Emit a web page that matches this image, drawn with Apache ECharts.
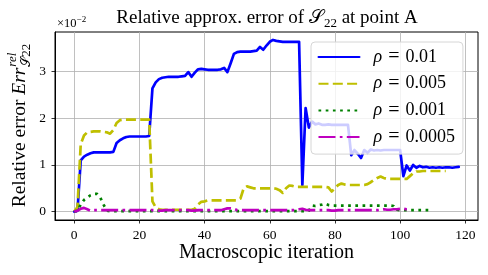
<!DOCTYPE html>
<html><head><meta charset="utf-8">
<script src="https://cdn.jsdelivr.net/npm/echarts@6/dist/echarts.min.js"></script>
<style>html,body{margin:0;padding:0;background:#fff}#c{width:488px;height:275px}</style>
</head><body><div id="c"></div>
<script>
// ---- data (index = macroscopic iteration) ----
const xTicks = [0, 20, 40, 60, 80, 100, 120];
const yTicks = [0, 1, 2, 3];
const rhoLabels = ['0.01', '0.005', '0.001', '0.0005'];

const rho001 = [
  0, 0.02, 1.1, 1.18, 1.22, 1.25, 1.27, 1.27, 1.27, 1.27,
  1.27, 1.27, 1.28, 1.47, 1.53, 1.57, 1.6, 1.61, 1.61, 1.61,
  1.61, 1.61, 1.61, 1.62, 2.64, 2.77, 2.84, 2.87, 2.88, 2.89,
  2.89, 2.89, 2.89, 2.9, 2.91, 2.99, 2.89, 2.98, 3.05, 3.06,
  3.05, 3.04, 3.04, 3.04, 3.04, 3.05, 3.08, 2.99, 3.18, 3.38,
  3.42, 3.43, 3.43, 3.43, 3.43, 3.44, 3.45, 3.53, 3.47, 3.56,
  3.64, 3.68, 3.66, 3.65, 3.64, 3.64, 3.64, 3.64, 3.64, 3.64,
  0.57, 2.22, 1.8, 1.93, 1.87, 1.89, 1.86, 1.86, 1.87, 1.86,
  1.86, 1.86, 1.86, 1.86, 1.86, 1.21, 1.32, 1.24, 1.15, 1.32,
  1.26, 1.33, 1.31, 1.32, 1.31, 1.32, 1.32, 1.32, 1.32, 1.32,
  1.32, 0.76, 0.99, 0.88, 1.0, 0.94, 0.98, 0.95, 0.96, 0.94,
  0.95, 0.94, 0.95, 0.94, 0.95, 0.95, 0.94, 0.95, 0.96
];
const rho0005 = [
  0, 0.1, 1.45, 1.63, 1.7, 1.71, 1.72, 1.72, 1.72, 1.71,
  1.7, 1.67, 1.75, 1.9, 1.96, 1.97, 1.97, 1.97, 1.97, 1.97,
  1.97, 1.97, 1.97, 1.97, 0.22, 0.09, 0.05, 0.04, 0.04, 0.04,
  0.04, 0.04, 0.04, 0.04, 0.04, 0.04, 0.04, 0.06, 0.15, 0.21,
  0.22, 0.24, 0.24, 0.24, 0.24, 0.24, 0.24, 0.24, 0.24, 0.24,
  0.24, 0.28, 0.5, 0.54, 0.52, 0.5, 0.5, 0.5, 0.5, 0.5,
  0.5, 0.5, 0.49, 0.46, 0.4, 0.5, 0.56, 0.55, 0.53, 0.53,
  0.53, 0.53, 0.53, 0.53, 0.53, 0.53, 0.53, 0.53, 0.52, 0.43,
  0.5, 0.57, 0.6, 0.58, 0.57, 0.57, 0.57, 0.57, 0.57, 0.57,
  0.59, 0.63, 0.68, 0.72, 0.75, 0.72, 0.7, 0.7, 0.7, 0.7,
  0.7, 0.7, 0.7, 0.76, 0.82, 0.86, 0.86, 0.87, 0.87, 0.87,
  0.87, 0.87, 0.87, 0.87, 0.87
];
const rho0001 = [
  0, 0.02, 0.15, 0.25, 0.3, 0.35, 0.38, 0.38, 0.3, 0.15,
  0.02, 0.01, 0.01, 0.01, 0.01, 0.01, 0.01, 0.01, 0.01, 0.01,
  0.01, 0.01, 0.01, 0.01, 0.01, 0.01, 0.01, 0.01, 0.01, 0.01,
  0.01, 0.01, 0.01, 0.01, 0.01, 0.01, 0.01, 0.01, 0.01, 0.01,
  0.01, 0.01, 0.01, 0.01, 0.01, 0.01, 0.01, 0.01, 0.01, 0.01,
  0.01, 0.01, 0.01, 0.01, 0.01, 0.01, 0.01, 0.01, 0.01, 0.01,
  0.01, 0.01, 0.01, 0.01, 0.01, 0.01, 0.01, 0.01, 0.01, 0.01,
  0.01, 0.01, 0.02, 0.13, 0.12, 0.14, 0.15, 0.17, 0.14, 0.13,
  0.13, 0.13, 0.13, 0.13, 0.13, 0.13, 0.13, 0.13, 0.13, 0.13,
  0.13, 0.13, 0.13, 0.13, 0.13, 0.13, 0.13, 0.13, 0.12, 0.04,
  0.03, 0.03, 0.03, 0.03, 0.03, 0.03, 0.03, 0.03, 0.03, 0.03,
  0.03
];
const rho00005 = [
  0, 0.02, 0.06, 0.08, 0.05, 0.02, 0.03, 0.03, 0.03, 0.03,
  0.03, 0.03, 0.03, 0.03, 0.03, 0.03, 0.03, 0.03, 0.03, 0.03,
  0.03, 0.03, 0.03, 0.03, 0.03, 0.03, 0.02, 0.02, 0.03, 0.03,
  0.03, 0.03, 0.03, 0.03, 0.03, 0.03, 0.02, 0.02, 0.03, 0.03,
  0.03, 0.03, 0.03, 0.03, 0.03, 0.03, 0.05, 0.07, 0.07, 0.06,
  0.03, 0.03, 0.03, 0.03, 0.03, 0.03, 0.03, 0.03, 0.03, 0.03,
  0.03, 0.03, 0.03, 0.03, 0.03, 0.03, 0.03, 0.03, 0.04, 0.05,
  0.06, 0.04, 0.03, 0.03, 0.03, 0.03, 0.03, 0.03, 0.03, 0.02,
  0.02, 0.03, 0.03, 0.03, 0.03, 0.03, 0.03, 0.03, 0.03, 0.03,
  0.03, 0.03, 0.03, 0.03, 0.04, 0.05, 0.04, 0.04, 0.05, 0.05,
  0.06, 0.06, 0.05, 0.05
];
const seriesValues = [rho001, rho0005, rho0001, rho00005];

// ---- styling ----
const FONT = '"Liberation Serif", "DejaVu Serif", serif';
const colors = ['#0000ff', '#bfbf00', '#008000', '#bf00bf'];
const dashes = ['solid', [10, 4.3], [2.7, 4.5], [17, 4.3, 2.7, 4.3]];

const chart = echarts.init(document.getElementById('c'), null, {renderer: 'canvas'});

const ctx = document.createElement('canvas').getContext('2d');
function tw(t, f) { ctx.font = f; return ctx.measureText(t).width; }

// y-axis label layout (rotated group)
const fMain = '19.5px ' + FONT, fIt = 'italic 19.5px ' + FONT, fSmall = 'italic 13px ' + FONT;
const w1 = tw('Relative error ', fMain);
const w2 = tw('Err', fIt);
const w3 = Math.max(tw('rel', fSmall), tw('\u{1D4AE}22', '13px ' + FONT));
const start = -(w1 + w2 + w3) / 2;

const option = {
  animation: false,
  backgroundColor: '#fff',
  grid: {left: 55, top: 32, width: 423, height: 188, show: true, borderColor: '#000', borderWidth: 1, backgroundColor: 'transparent', containLabel: false},
  xAxis: {
    type: 'value', min: -5.9, max: 123.9, splitNumber: 6,
    axisLine: {show: true, onZero: false, lineStyle: {color: '#000', width: 1}},
    axisTick: {show: true, inside: false, length: 3.5, lineStyle: {color: '#000', width: 0.8}, customValues: xTicks},
    axisLabel: {customValues: xTicks, color: '#000', fontFamily: FONT, fontSize: 13.5, margin: 8},
    splitLine: {show: true, lineStyle: {color: '#b0b0b0', width: 0.8}}
  },
  yAxis: {
    type: 'value', min: -0.18, max: 3.85, splitNumber: 4,
    axisLine: {show: true, onZero: false, lineStyle: {color: '#000', width: 1}},
    axisTick: {show: true, inside: false, length: 3.5, lineStyle: {color: '#000', width: 0.8}, customValues: yTicks},
    axisLabel: {customValues: yTicks, color: '#000', fontFamily: FONT, fontSize: 13.5, margin: 9},
    splitLine: {show: true, lineStyle: {color: '#b0b0b0', width: 0.8}}
  },
  legend: {
    orient: 'vertical', left: 311, top: 42,
    padding: [5, 8, 7, 6.5], itemGap: 6.7, itemWidth: 41, itemHeight: 14,
    backgroundColor: 'rgba(255,255,255,0.8)', borderColor: '#d6d6d6', borderWidth: 1, borderRadius: 4,
    itemStyle: {opacity: 0},
    data: rhoLabels,
    formatter: n => '{g|}{i|\u03c1}{e|=}{t|' + n + '}',
    textStyle: {
      color: '#000', fontFamily: FONT, fontSize: 18, lineHeight: 20,
      rich: {
        g: {width: 9},
        i: {fontStyle: 'italic', fontFamily: FONT, fontSize: 18, lineHeight: 20},
        e: {fontFamily: FONT, fontSize: 20, lineHeight: 20, padding: [0, 6, 0, 6]},
        t: {fontFamily: FONT, fontSize: 18, lineHeight: 20}
      }
    }
  },
  series: seriesValues.map((vals, k) => ({
    type: 'line', name: rhoLabels[k],
    data: vals.map((v, i) => [i, v]),
    symbol: 'none', showSymbol: false,
    lineStyle: {color: colors[k], width: 2.7, type: dashes[k], cap: k === 0 ? 'round' : 'butt', join: 'round'},
    itemStyle: {color: colors[k]},
    emphasis: {disabled: true}
  })),
  graphic: [
    {
      type: 'text', x: 267, y: 18,
      style: {
        text: 'Relative approx. error of {s|\u{1D4AE}}{sub|22} at point A',
        align: 'center', verticalAlign: 'middle', fill: '#000', fontFamily: FONT, fontSize: 19, lineHeight: 24,
        rich: {
          s: {fontSize: 19, lineHeight: 24, fontFamily: FONT},
          sub: {fontSize: 13, lineHeight: 13, verticalAlign: 'bottom', fontFamily: FONT}
        }
      }
    },
    {
      type: 'text', x: 57, y: 24,
      style: {
        text: '\u00d710{sup|\u22122}', align: 'left', verticalAlign: 'middle', fill: '#000', fontFamily: FONT, fontSize: 12.5, lineHeight: 18,
        rich: {sup: {fontSize: 9, lineHeight: 9, verticalAlign: 'top', fontFamily: FONT}}
      }
    },
    {
      type: 'text', x: 266.5, y: 253,
      style: {text: 'Macroscopic iteration', align: 'center', verticalAlign: 'middle', fill: '#000', fontFamily: FONT, fontSize: 20}
    },
    {
      type: 'group', x: 20, y: 126, rotation: Math.PI / 2,
      children: [
        {type: 'text', x: start, y: 0, style: {text: 'Relative error ', font: fMain, fill: '#000', align: 'left', verticalAlign: 'middle'}},
        {type: 'text', x: start + w1, y: 0, style: {text: 'Err', font: fIt, fill: '#000', align: 'left', verticalAlign: 'middle'}},
        {type: 'text', x: start + w1 + w2 + 1, y: -7.5, style: {text: 'rel', font: fSmall, fill: '#000', align: 'left', verticalAlign: 'middle'}},
        {type: 'text', x: start + w1 + w2 + 1, y: 6.5, style: {text: '\u{1D4AE}22', font: '13px ' + FONT, fill: '#000', align: 'left', verticalAlign: 'middle'}}
      ]
    }
  ]
};
chart.setOption(option);
</script>
</body></html>
